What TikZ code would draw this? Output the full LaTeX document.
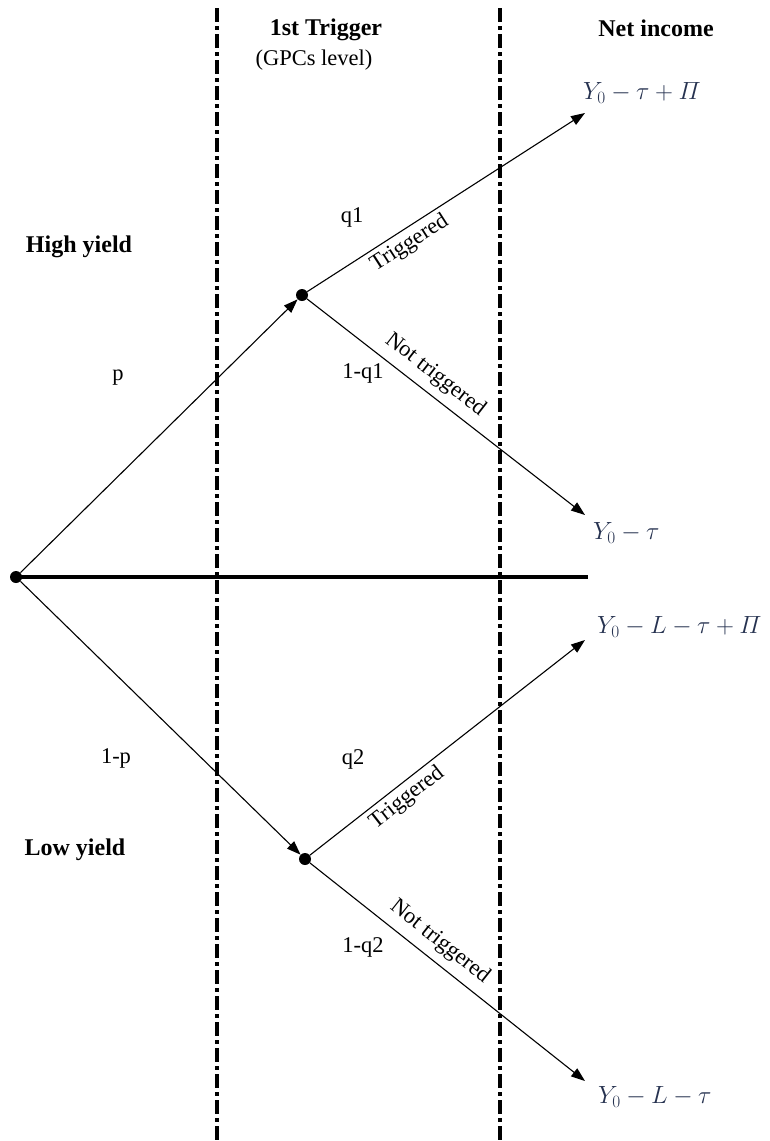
\documentclass[tikz,border=0pt]{standalone}
\usepackage{amsmath}
\usepackage{fontspec}
\setmainfont{Liberation Serif}
\usetikzlibrary{arrows.meta}
\definecolor{mathblue}{RGB}{38,50,80}
\begin{document}
\begin{tikzpicture}[x=1pt,y=-1pt,
  dot/.style={circle,fill=black,inner sep=0pt,minimum size=12pt},
  arr/.style={line width=1.1pt,-{Triangle[length=14pt,width=10pt]}},
  divider/.style={line width=3.4pt,dash pattern=on 14pt off 4pt on 4pt off 4pt},
  axisline/.style={line width=4.5pt},
  hdr/.style={font=\fontsize{24}{28}\selectfont\bfseries,inner sep=0pt},
  txt/.style={font=\fontsize{22.5}{26}\selectfont,inner sep=0pt},
  trig/.style={font=\fontsize{22.5}{26}\selectfont,sloped,inner sep=4pt},
  ntrig/.style={font=\fontsize{22.5}{26}\selectfont,sloped,inner sep=8pt},
  res/.style={font=\fontsize{25}{28}\selectfont,text=mathblue,inner sep=0pt,anchor=west}]
\useasboundingbox (0,0) rectangle (769,1141);
% dividers
\coordinate (d1t) at (217,8);
\coordinate (d1b) at (217,1141);
\coordinate (d2t) at (500,8);
\coordinate (d2b) at (500,1141);
\draw[divider] (d1t) -- (d1b);
\draw[divider] (d2t) -- (d2b);
% headers
\node[hdr] (h1) at (326,30) {1st Trigger};
\node[txt] (h1b) at (314,60) {(GPCs level)};
\node[hdr] (h2) at (656,28) {Net income};
\node[hdr] (hy) at (79,247) {High yield};
\node[hdr] (ly) at (75,850) {Low yield};
% dots
\node[dot] (o) at (16,577) {};
\node[dot] (u) at (302,295) {};
\node[dot] (l) at (305,859) {};
% horizontal line
\coordinate (he) at (588,577);
\draw[axisline] (o.center) -- (he);
% tips
\coordinate (ut) at (585,113);
\coordinate (un) at (585,515);
\coordinate (lt) at (585,640);
\coordinate (ln) at (585,1081);
% arrows
\draw[arr] (o) -- (u);
\draw[arr] (o) -- (l);
\draw[arr] (u) -- node[trig,below,pos=0.34] {Triggered} (ut);
\draw[arr] (u) -- node[ntrig,above,pos=0.42] {Not triggered} (un);
\draw[arr] (l) -- node[trig,below,pos=0.32] {Triggered} (lt);
\draw[arr] (l) -- node[ntrig,above,pos=0.43] {Not triggered} (ln);
% probabilities
\node[txt] (p) at (118,378) {p};
\node[txt] (mp) at (116,758) {1-p};
\node[txt] (q1) at (352,217) {q1};
\node[txt] (mq1) at (363,373) {1-q1};
\node[txt] (q2) at (353,759) {q2};
\node[txt] (mq2) at (363,947) {1-q2};
% results
\node[res] (f1) at (583,93) {$Y_0-\tau+\varPi$};
\node[res] (f2) at (593,533) {$Y_0-\tau$};
\node[res] (f3) at (597,627) {$Y_0-L-\tau+\varPi$};
\node[res] (f4) at (598,1097) {$Y_0-L-\tau$};
\end{tikzpicture}
\end{document}
